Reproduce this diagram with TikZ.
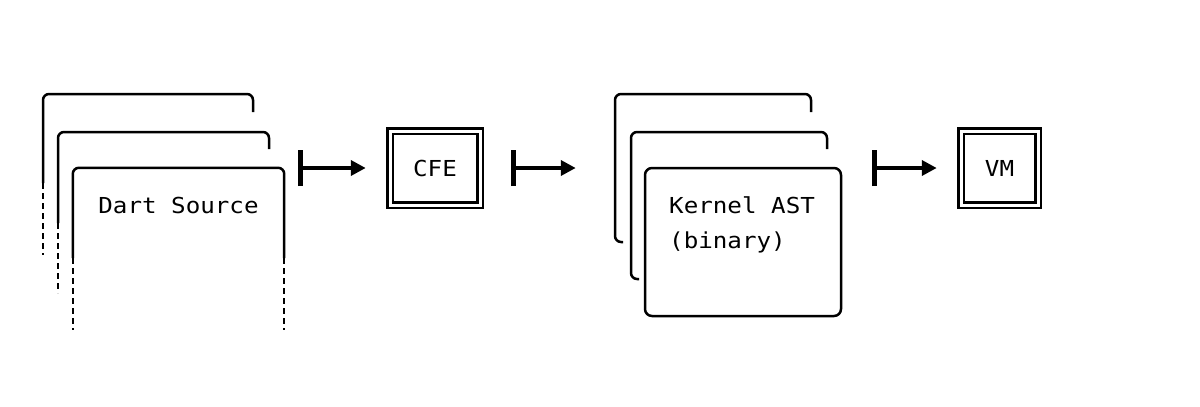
\documentclass[tikz,border=0pt]{standalone}
\usepackage{fontspec}
\newfontfamily\mono[FakeStretch=1.1]{DejaVu Sans Mono}
\usetikzlibrary{arrows.meta,calc}
\begin{document}
\begin{tikzpicture}[x=1pt,y=-1pt,
  page/.style={line width=2.5pt, rounded corners=6pt},
  fade/.style={line width=2.5pt, dash pattern=on 6pt off 4pt},
  flow/.style={line width=4pt, {Bar[width=36pt,line width=4.5pt]}-{Triangle[length=15pt,width=15pt]}},
  stage/.style={draw, line width=2.5pt, double, double distance=3pt, minimum height=74pt, inner sep=0pt, font=\mono\fontsize{22}{26}\selectfont},
  lbl/.style={font=\mono\fontsize{22}{26}\selectfont, inner sep=0pt}]
\useasboundingbox[fill=white] (0,0) rectangle (1200,407);
% Dart source stack
\draw[page] (43,183) -- (43,94) -- (253,94) -- (253,112);
\draw[fade] (43,183) -- (43,255);
\draw[page] (58,223) -- (58,132) -- (269,132) -- (269,149);
\draw[fade] (58,223) -- (58,293);
\node[minimum width=211pt, minimum height=162pt, inner sep=0pt] (ds) at (178.5,249) {};
\draw[page] (ds.west |- 0,258) -- (ds.north west) -- (ds.north east) -- (ds.east |- 0,258);
\draw[fade] (ds.west |- 0,258) -- (ds.south west);
\draw[fade] (ds.east |- 0,258) -- (ds.south east);
\node[lbl, anchor=base] (dstext) at (178.5,213) {Dart Source};
% CFE
\node[stage, minimum width=90pt] (cfe) at (435,168) {CFE};
% Kernel stack
\draw[page] (623,242) -- (615,242) -- (615,94) -- (811,94) -- (811,112);
\draw[page] (639,279) -- (631,279) -- (631,132) -- (827,132) -- (827,149);
\node[draw, fill=white, line width=2.5pt, rounded corners=7pt, minimum width=196pt, minimum height=148pt, inner sep=0pt] (k) at (743,242) {};
\node[lbl, anchor=base west] (k1) at (669,213) {Kernel AST};
\node[lbl, anchor=base west] (k2) at (669,248) {(binary)};
% VM
\node[stage, minimum width=77pt] (vm) at (999.5,168) {VM};
% arrows
\draw[flow] ($(ds.east |- cfe.west)+(14,0)$) -- ($(cfe.west)+(-23,0)$);
\draw[flow] ($(cfe.east)+(30,0)$) -- ($(cfe.east -| k.west)+(-68,0)$);
\draw[flow] ($(k.east |- vm.west)+(30,0)$) -- ($(vm.west)+(-23,0)$);
\end{tikzpicture}
\end{document}
